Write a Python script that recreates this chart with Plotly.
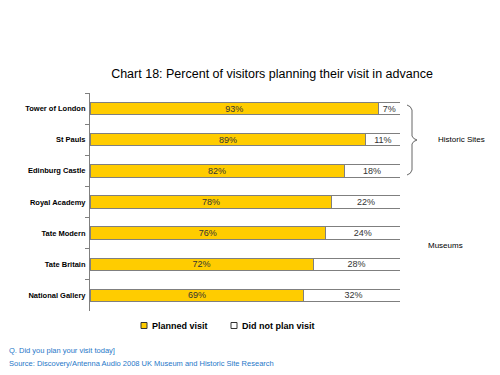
import plotly.graph_objects as go

categories = ["Tower of London", "St Pauls", "Edinburg Castle", "Royal Academy",
              "Tate Modern", "Tate Britain", "National Gallery"]
planned = [93, 89, 82, 78, 76, 72, 69]
not_planned = [7, 11, 18, 22, 24, 28, 32]
labels_planned = ["93%", "89%", "82%", "78%", "76%", "72%", "69%"]
labels_not = ["7%", "11%", "18%", "22%", "24%", "28%", "32%"]
series_names = ["Planned visit", "Did not plan visit"]

OFF = 8  # browser default body margin
W, H = 500 - OFF, 375 - OFF
# plot area in page pixels
PX0, PX1, PY0, PY1 = 90, 400, 93, 311
L, R, T, B = PX0 - OFF, W - (PX1 - OFF), PY0 - OFF, H - (PY1 - OFF)
PW, PH = PX1 - PX0, PY1 - PY0

def px(x):
    return (x - PX0) / PW

def py(y):
    return (PY1 - y) / PH

FONT = "Liberation Sans, Arial, sans-serif"
GREY = "#7f7f7f"
YEL = "#FFCC00"
COLS = [YEL, "#FFFFFF"]

fig = go.Figure()
fig.add_trace(go.Bar(
    y=categories, x=planned, orientation="h", name=series_names[0], showlegend=False,
    marker=dict(color=COLS[0], line=dict(color=GREY, width=1)),
    text=labels_planned, textposition="inside", insidetextanchor="middle",
    textfont=dict(family=FONT, size=9, color="#333333"),
))
fig.add_trace(go.Bar(
    y=categories, x=not_planned, orientation="h", name=series_names[1], showlegend=False,
    marker=dict(color=COLS[1], line=dict(color=GREY, width=1)),
    text=labels_not, textposition="inside", insidetextanchor="middle",
    textfont=dict(family=FONT, size=9, color="#333333"),
))

fig.update_layout(
    width=W, height=H, barmode="stack", bargap=0.6,
    margin=dict(l=L, r=R, t=T, b=B),
    plot_bgcolor="white", paper_bgcolor="white",
    font=dict(family=FONT, size=9, color="black"),
    uniformtext=dict(minsize=6, mode="show"),
    title=dict(text="Chart 18: Percent of visitors planning their visit in advance",
               xref="container", yref="container",
               x=(272 - OFF) / W, xanchor="center", y=1 - (74 - OFF) / H, yanchor="middle",
               font=dict(family=FONT, size=12.5, color="black")),
    xaxis=dict(range=[0, 100], visible=False, fixedrange=True),
    yaxis=dict(autorange="reversed", showline=True, linecolor=GREY, linewidth=1,
               ticks="outside", tickson="boundaries", ticklen=4, tickcolor=GREY,
               tickfont=dict(family=FONT, size=7.5, color="black", weight="bold"),
               ticklabelstandoff=2),
    showlegend=False,
)

# manual legend
leg_sq_x = [141, 231]
leg_y = 325.5
for i, nm in enumerate(series_names):
    x0 = leg_sq_x[i]
    fig.add_shape(type="rect", xref="paper", yref="paper",
                  x0=px(x0), x1=px(x0 + 6), y0=py(leg_y - 3), y1=py(leg_y + 3),
                  fillcolor=COLS[i], line=dict(color="#333333", width=1))
    fig.add_annotation(text=nm, x=px(x0 + 8.5), y=py(leg_y), xref="paper", yref="paper",
                       xanchor="left", yanchor="middle", showarrow=False,
                       font=dict(family=FONT, size=9, color="black", weight="bold"))

# curly brace for Historic Sites
pts = [(407, 105), (411, 106), (412, 110), (412, 136), (413, 139), (417, 140),
       (413, 141), (412, 144), (412, 170), (411, 174), (407, 175)]
path = "M {} {} ".format(px(pts[0][0]), py(pts[0][1]))
path += "Q {} {} {} {} ".format(px(pts[1][0]), py(pts[1][1]), px(pts[2][0]), py(pts[2][1]))
path += "L {} {} ".format(px(pts[3][0]), py(pts[3][1]))
path += "Q {} {} {} {} ".format(px(pts[4][0]), py(pts[4][1]), px(pts[5][0]), py(pts[5][1]))
path += "Q {} {} {} {} ".format(px(pts[6][0]), py(pts[6][1]), px(pts[7][0]), py(pts[7][1]))
path += "L {} {} ".format(px(pts[8][0]), py(pts[8][1]))
path += "Q {} {} {} {}".format(px(pts[9][0]), py(pts[9][1]), px(pts[10][0]), py(pts[10][1]))
fig.add_shape(type="path", path=path, xref="paper", yref="paper",
              line=dict(color="#666666", width=1))

fig.add_annotation(text="Historic Sites", x=px(436), y=py(139), xref="paper", yref="paper",
                   xanchor="left", yanchor="middle", showarrow=False,
                   font=dict(family=FONT, size=8, color="black"))
fig.add_annotation(text="Museums", x=px(426), y=py(245), xref="paper", yref="paper",
                   xanchor="left", yanchor="middle", showarrow=False,
                   font=dict(family=FONT, size=8, color="black"))
fig.add_annotation(text="Q. Did you plan your visit today]", x=px(7), y=py(350),
                   xref="paper", yref="paper", xanchor="left", yanchor="middle",
                   showarrow=False, font=dict(family=FONT, size=7.5, color="#1F77C8"))
fig.add_annotation(text="Source: Discovery/Antenna Audio 2008 UK Museum and Historic Site Research",
                   x=px(7), y=py(363), xref="paper", yref="paper", xanchor="left",
                   yanchor="middle", showarrow=False,
                   font=dict(family=FONT, size=7.5, color="#1F77C8"))

fig.write_html("out.html")
